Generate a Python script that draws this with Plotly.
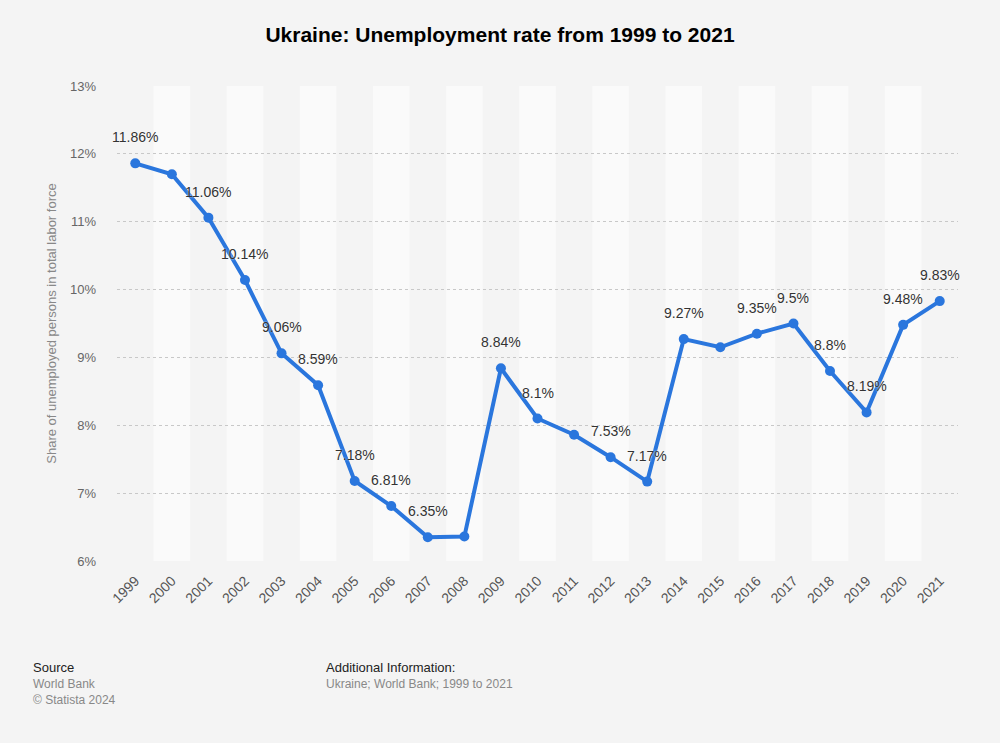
import plotly.graph_objects as go

years = [str(y) for y in range(1999, 2022)]
rates = [11.86, 11.70, 11.06, 10.14, 9.06, 8.59, 7.18, 6.81, 6.35, 6.36, 8.84, 8.1,
         7.86, 7.53, 7.17, 9.27, 9.15, 9.35, 9.5, 8.8, 8.19, 9.48, 9.83]
show_label = [True, False, True, True, True, True, True, True, True, False, True, True,
              False, True, True, True, False, True, True, True, True, True, True]
y_ticks = [6, 7, 8, 9, 10, 11, 12, 13]

BLUE = "#2a76dd"
FONT = "Liberation Sans, Arial, sans-serif"

fig = go.Figure()
fig.add_trace(go.Scatter(
    x=years, y=rates, mode="lines+markers",
    line=dict(color=BLUE, width=4),
    marker=dict(color=BLUE, size=10),
    hoverinfo="skip", showlegend=False,
))

shapes = []
for i, yr in enumerate(years):
    if i % 2 == 1:
        shapes.append(dict(type="rect", xref="x", yref="paper", x0=i - 0.5, x1=i + 0.5,
                           y0=0, y1=1, fillcolor="#fafafa", line=dict(width=0), layer="below"))

annotations = []
for i, (yr, v, s) in enumerate(zip(years, rates, show_label)):
    if s:
        annotations.append(dict(
            x=i, y=v, xref="x", yref="y", text=f"{v:g}%", showarrow=False,
            yshift=26, font=dict(family=FONT, size=14, color="#333333", shadow="0px 0px 2px #ffffff"),
        ))

footer = [
    dict(text="Source", x=31, y=667, color="#222222", size=13),
    dict(text="World Bank", x=31, y=684, color="#888888", size=12),
    dict(text="© Statista 2024", x=31, y=700, color="#888888", size=12),
    dict(text="Additional Information:", x=324, y=667, color="#222222", size=13),
    dict(text="Ukraine; World Bank; 1999 to 2021", x=324, y=684, color="#888888", size=12),
]
for f in footer:
    annotations.append(dict(
        text=f["text"], xref="paper", yref="paper",
        x=(f["x"] - 117) / (958 - 117), y=(561 - f["y"]) / (561 - 86),
        xanchor="left", yanchor="middle", showarrow=False,
        font=dict(family=FONT, size=f["size"], color=f["color"]),
    ))

fig.update_layout(
    width=1000, height=743,
    paper_bgcolor="#f4f4f4", plot_bgcolor="#f4f4f4",
    margin=dict(l=117, r=42, t=86, b=182),
    title=dict(text="<b>Ukraine: Unemployment rate from 1999 to 2021</b>", x=0.5, xanchor="center",
               y=1 - 35 / 743, yanchor="middle",
               font=dict(family=FONT, size=21, color="#000000")),
    shapes=shapes,
    annotations=annotations,
    xaxis=dict(
        type="category", range=[-0.5, len(years) - 0.5],
        tickangle=-45, showgrid=False, showline=False, zeroline=False, ticks="",
        ticklabelstandoff=8,
        tickfont=dict(family=FONT, size=14, color="#555555"),
    ),
    yaxis=dict(
        range=[6, 13], tickvals=y_ticks, ticktext=[f"{t}%" for t in y_ticks],
        showgrid=True, gridcolor="#c8c8c8", griddash="dot", gridwidth=1,
        zeroline=False, showline=False, ticks="", ticklen=0, ticklabelstandoff=20,
        tickfont=dict(family=FONT, size=13, color="#666666"),
        title=dict(text="Share of unemployed persons in total labor force",
                   font=dict(family=FONT, size=13, color="#888888"), standoff=10),
    ),
)

fig.write_html("out.html")
